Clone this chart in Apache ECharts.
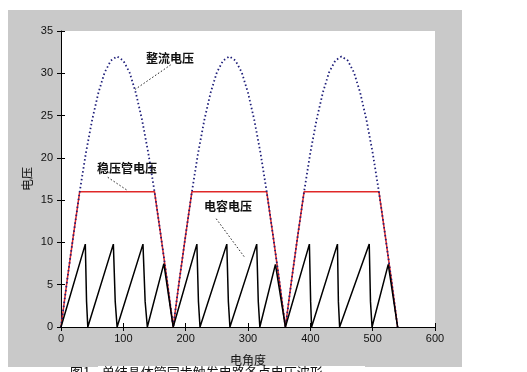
<!DOCTYPE html>
<html><head><meta charset="utf-8">
<script src="https://cdn.jsdelivr.net/npm/echarts@6/dist/echarts.min.js"></script>
<style>html,body{margin:0;padding:0;background:#fff}#c{width:527px;height:372px}</style>
</head><body><div id="c"></div>
<script>
// ---- data ----
const xTicks = [0, 100, 200, 300, 400, 500, 600];
const yTicks = [0, 5, 10, 15, 20, 25, 30, 35];

// full-wave rectified voltage (blue dotted)
const rectX = [0,10,20,30,40,50,60,70,80,90,100,110,120,130,140,150,160,170,
               180,190,200,210,220,230,240,250,260,270,280,290,300,310,320,330,340,350,
               360,370,380,390,400,410,420,430,440,450,460,470,480,490,500,510,520,530,540];
const rectV = [0,5.6,10.9,16,20.6,24.5,27.7,30.1,31.5,32,31.5,30.1,27.7,24.5,20.6,16,10.9,5.6,
               0,5.6,10.9,16,20.6,24.5,27.7,30.1,31.5,32,31.5,30.1,27.7,24.5,20.6,16,10.9,5.6,
               0,5.6,10.9,16,20.6,24.5,27.7,30.1,31.5,32,31.5,30.1,27.7,24.5,20.6,16,10.9,5.6,0];

// zener-clipped voltage (red)
const clipX = [0,10,20,30,150,160,170,180,190,200,210,330,340,350,360,370,380,390,510,520,530,540];
const clipV = [0,5.6,10.9,16,16,10.9,5.6,0,5.6,10.9,16,16,10.9,5.6,0,5.6,10.9,16,16,10.9,5.6,0];

// capacitor (sawtooth) voltage (black)
const sawX = [0,39,41,43, 84,87,90, 131.5,135,138.5, 165,180, 218,220.5,223, 266,268.5,271,
              314,316.5,319, 344,360, 398.5,400.5,402, 443.5,445,447, 494.5,496.5,499, 525,540];
const sawV = [0,9.8,3,0, 9.8,3,0, 9.8,3,0, 7.5,0, 9.8,3,0, 9.8,3,0,
              9.8,3,0, 7.4,0, 9.8,3,0, 9.8,3,0, 9.8,3,0, 7.4,0];

// annotations (data coordinates)
const noteText = ['整流电压', '稳压管电压', '电容电压'];
const noteAt   = [[175, 31.7], [106, 18.8], [268, 14.2]];
const noteFrom = [[176, 31.0], [75, 17.7], [249, 12.8]];
const noteTo   = [[119, 28.1], [107.5, 16.1], [295, 8.2]];

const xTitle = '电角度';
const yTitle = '电压';
const caption = '图1    单结晶体管同步触发电路各点电压波形';

// ---- chart ----
const zip = (a, b) => a.map((v, i) => [v, b[i]]);
const chart = echarts.init(document.getElementById('c'), null, {renderer: 'canvas'});
const FONT = 'Liberation Sans, DejaVu Sans, sans-serif';
const CJK = 'Noto Sans CJK SC, sans-serif';

const leaderSeries = noteFrom.map((p, i) => ({
  type: 'line', data: [p, noteTo[i]], symbol: 'none', silent: true, z: 5,
  lineStyle: {color: '#222', width: 1, type: [1.5, 2]}
}));

const baseGraphics = [
  {type: 'rect', shape: {x: 8, y: 10, width: 454, height: 357}, style: {fill: '#c9c9c9'}, z: -10, silent: true},
  {type: 'rect', shape: {x: 98, y: 366, width: 267, height: 6}, style: {fill: '#fff'}, z: -9, silent: true},
  {type: 'text', left: 70, top: 366, style: {text: caption, fill: '#111', font: '13px ' + CJK}, z: 10, silent: true}
];

chart.setOption({
  animation: false,
  backgroundColor: '#fff',
  graphic: baseGraphics,
  grid: {left: 61, top: 31, width: 374, height: 296, show: true, backgroundColor: '#fff', borderWidth: 0},
  xAxis: [{
    type: 'value', min: xTicks[0], max: xTicks[xTicks.length - 1], interval: 100, position: 'bottom',
    axisLine: {show: true, onZero: false, lineStyle: {color: '#000', width: 1}},
    axisTick: {inside: true, length: 4, lineStyle: {color: '#000'}},
    axisLabel: {color: '#111', fontSize: 11, margin: 6, fontFamily: FONT},
    splitLine: {show: false},
    name: xTitle, nameLocation: 'middle', nameGap: 27, nameMoveOverlap: false,
    nameTextStyle: {color: '#111', fontSize: 12, fontFamily: CJK}
  }, {
    type: 'value', min: xTicks[0], max: xTicks[xTicks.length - 1], interval: 100, position: 'top',
    axisLine: {show: false}, axisTick: {show: true, inside: true, length: 4, lineStyle: {color: '#000'}},
    axisLabel: {show: false}, splitLine: {show: false}
  }],
  yAxis: [{
    type: 'value', min: yTicks[0], max: yTicks[yTicks.length - 1], interval: 5, position: 'left',
    axisLine: {show: true, onZero: false, lineStyle: {color: '#000', width: 1}},
    axisTick: {show: true, inside: true, length: 4, lineStyle: {color: '#000'}},
    axisLabel: {color: '#111', fontSize: 11, margin: 8, fontFamily: FONT},
    splitLine: {show: false},
    name: yTitle, nameLocation: 'middle', nameGap: 28, nameMoveOverlap: false,
    nameTextStyle: {color: '#111', fontSize: 12, fontFamily: CJK}
  }, {
    type: 'value', min: yTicks[0], max: yTicks[yTicks.length - 1], interval: 5, position: 'right',
    axisLine: {show: false}, axisTick: {show: true, inside: true, length: 4, lineStyle: {color: '#000'}},
    axisLabel: {show: false}, splitLine: {show: false}
  }],
  series: [
    {type: 'line', name: '稳压管电压', data: zip(clipX, clipV), symbol: 'none', z: 2,
     lineStyle: {color: '#e02828', width: 1.5}},
    {type: 'line', name: '整流电压', data: zip(rectX, rectV), symbol: 'none', z: 3,
     lineStyle: {color: '#1f1f7a', width: 1.8, type: [1.5, 2.5]}},
    {type: 'line', name: '电容电压', data: zip(sawX, sawV), symbol: 'none', z: 4,
     lineStyle: {color: '#000', width: 1.5}}
  ].concat(leaderSeries)
});

// annotation texts placed through the grid's scales
const noteGraphics = noteText.map((t, i) => {
  const p = chart.convertToPixel({gridIndex: 0}, noteAt[i]);
  return {type: 'text', x: p[0], y: p[1], z: 20, silent: true,
          style: {text: t, fill: '#111', font: 'bold 12px ' + CJK, align: 'center', verticalAlign: 'middle'}};
});
chart.setOption({graphic: baseGraphics.concat(noteGraphics)}, {replaceMerge: ['graphic']});
</script>
</body></html>
